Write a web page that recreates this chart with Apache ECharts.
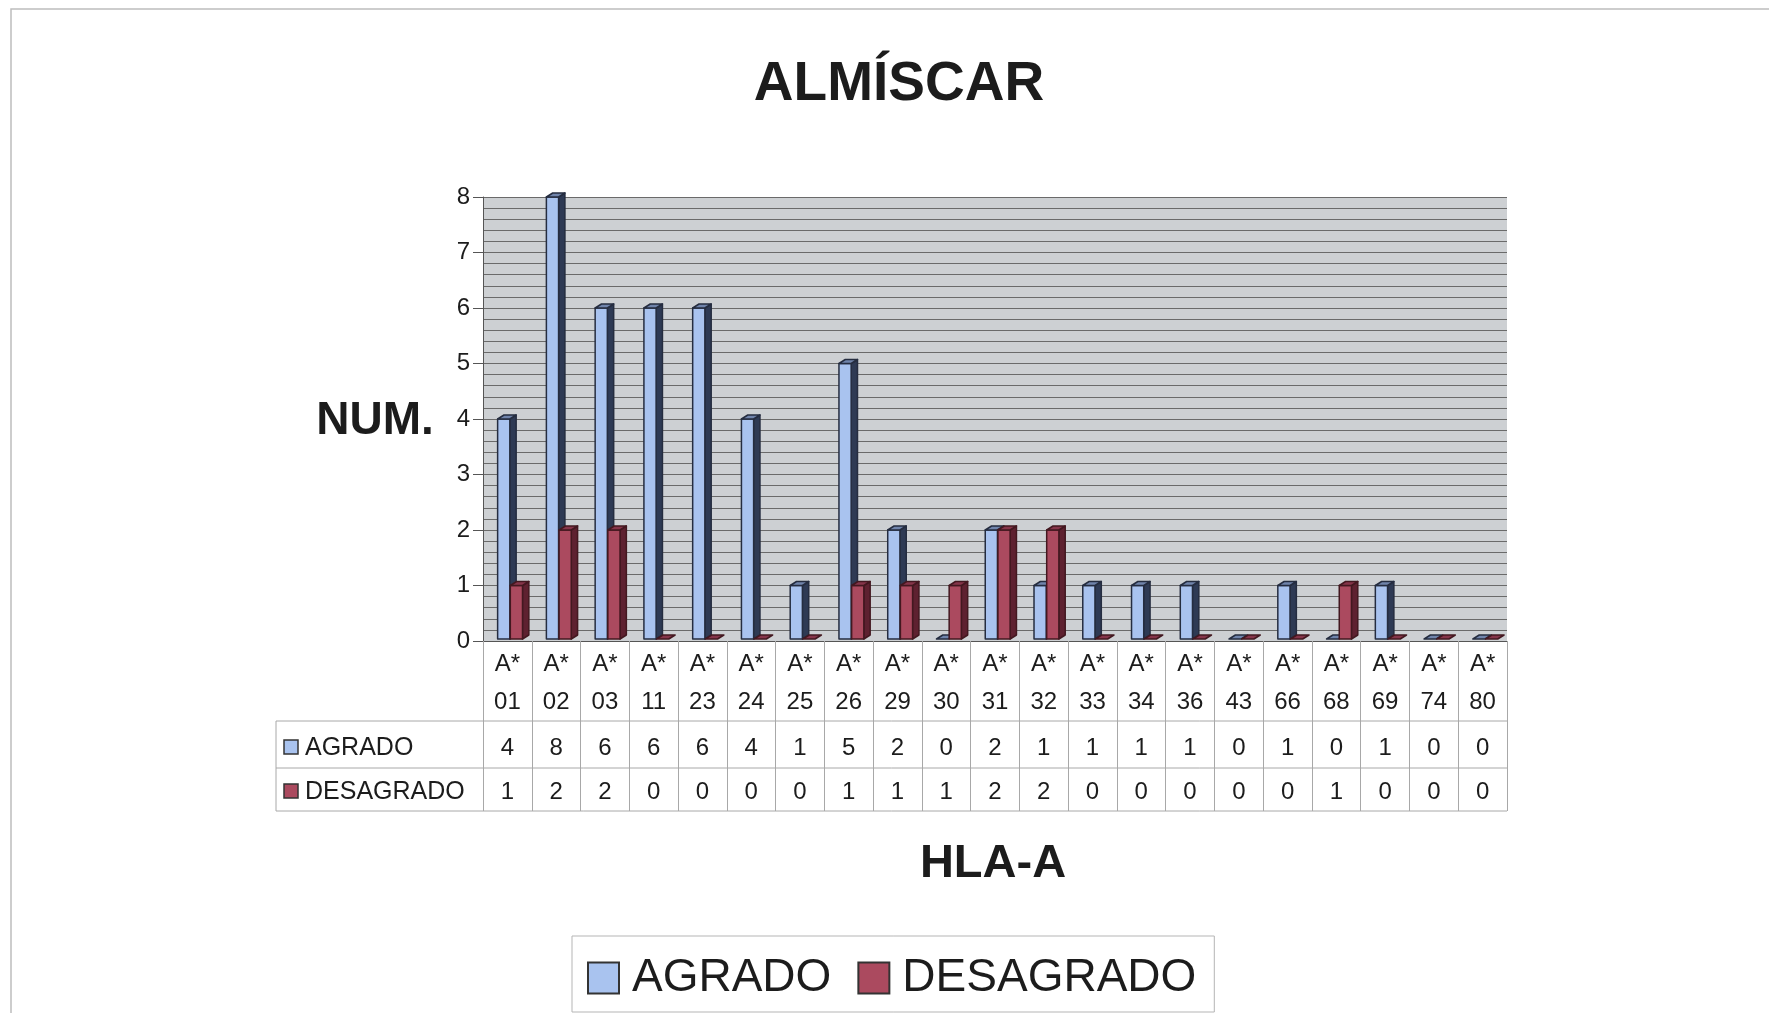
<!DOCTYPE html>
<html>
<head>
<meta charset="utf-8">
<script src="https://cdn.jsdelivr.net/npm/echarts@6/dist/echarts.min.js"></script>
<style>
  html, body { margin: 0; padding: 0; background: #ffffff; }
  #chart { width: 1769px; height: 1013px; }
</style>
</head>
<body>
<div id="chart"></div>
<script>
// HLA-A alleles and counts of people who liked / disliked the musk odour
const categories = ['A* 01', 'A* 02', 'A* 03', 'A* 11', 'A* 23', 'A* 24', 'A* 25', 'A* 26', 'A* 29', 'A* 30', 'A* 31',
                    'A* 32', 'A* 33', 'A* 34', 'A* 36', 'A* 43', 'A* 66', 'A* 68', 'A* 69', 'A* 74', 'A* 80'];
const agrado    = [4, 8, 6, 6, 6, 4, 1, 5, 2, 0, 2, 1, 1, 1, 1, 0, 1, 0, 1, 0, 0];
const desagrado = [1, 2, 2, 0, 0, 0, 0, 1, 1, 1, 2, 2, 0, 0, 0, 0, 0, 1, 0, 0, 0];
const seriesNames = ['AGRADO', 'DESAGRADO'];
const yMax = 8;

const FONT = '"Liberation Sans", Arial, Helvetica, sans-serif';
const TEXT = '#1c1c1c';

// plot rectangle and data-table geometry
const GRID = { left: 483, right: 262, top: 197, bottom: 372 };
const AXIS_Y = 1013 - GRID.bottom;          // y of the category axis
const PLOT_R = 1769 - GRID.right;
const TABLE_L = 276;
const ROW_TOP = 721, ROW_MID = 768, ROW_BOT = 811;

// pseudo-3D column: front face, right side face and top face
function bar3d(startFrac, colors) {
  return function (params, api) {
    const idx = api.value(0);
    const val = api.value(1);
    const base = api.coord([idx, 0]);
    const top = api.coord([idx, val]);
    const w = api.size([1, 0])[0];
    const x0 = base[0] - w / 2 + w * startFrac;
    const x1 = x0 + w * 0.25;
    const dx = w * 0.13, dy = 4;
    const yb = base[1] - 2;
    const yt = Math.min(top[1], yb);
    const stroke = { stroke: colors.line, lineWidth: 1.5, lineJoin: 'round' };
    const children = [];
    if (yb - yt > 0.5) {
      children.push({
        type: 'polygon',
        shape: { points: [[x1, yt], [x1 + dx, yt - dy], [x1 + dx, yb - dy], [x1, yb]] },
        style: Object.assign({ fill: colors.side }, stroke)
      });
      children.push({
        type: 'rect',
        shape: { x: x0, y: yt, width: x1 - x0, height: yb - yt },
        style: Object.assign({ fill: colors.front }, stroke)
      });
    }
    children.push({
      type: 'polygon',
      shape: { points: [[x0, yt], [x1, yt], [x1 + dx, yt - dy], [x0 + dx, yt - dy]] },
      style: Object.assign({ fill: colors.top }, stroke)
    });
    return { type: 'group', children: children };
  };
}

const blue = { front: '#a9c3ef', side: '#2e3a54', top: '#7084ab', line: '#252d40' };
const red  = { front: '#ab4a5f', side: '#5e2130', top: '#86354a', line: '#431820' };

const chart = echarts.init(document.getElementById('chart'), null, { renderer: 'canvas' });

const option = {
  backgroundColor: '#ffffff',
  animation: false,
  textStyle: { fontFamily: FONT },
  grid: Object.assign({ show: true, backgroundColor: '#cdd0d3', borderWidth: 0 }, GRID),
  legend: {
    left: 572, top: 936,
    padding: [19, 18, 11, 15],
    itemWidth: 31, itemHeight: 31, itemGap: 26,
    borderColor: '#b5b5b5', borderWidth: 1,
    icon: 'rect',
    textStyle: { fontSize: 46, color: TEXT, fontFamily: FONT, padding: [0, 0, 0, 8] },
    data: [
      { name: seriesNames[0], itemStyle: { color: blue.front, borderColor: '#333', borderWidth: 2 } },
      { name: seriesNames[1], itemStyle: { color: red.front, borderColor: '#333', borderWidth: 2 } }
    ]
  },
  xAxis: [
    {
      type: 'category', data: categories, position: 'bottom',
      axisLine: { show: true, lineStyle: { color: '#555', width: 1 } },
      axisTick: { show: true, interval: 0, length: ROW_BOT - AXIS_Y, lineStyle: { color: '#a8a8a8' } },
      axisLabel: {
        interval: 0, margin: 4, fontSize: 24, lineHeight: 38, color: TEXT, fontFamily: FONT,
        formatter: v => v.split(' ').join('\n')
      }
    },
    {
      type: 'category', data: categories, position: 'bottom', offset: 85,
      axisLine: { show: false }, axisTick: { show: false },
      axisLabel: { interval: 0, margin: 10, fontSize: 24, lineHeight: 24, color: TEXT, fontFamily: FONT,
                   formatter: (v, i) => String(agrado[i]) }
    },
    {
      type: 'category', data: categories, position: 'bottom', offset: 129,
      axisLine: { show: false }, axisTick: { show: false },
      axisLabel: { interval: 0, margin: 10, fontSize: 24, lineHeight: 24, color: TEXT, fontFamily: FONT,
                   formatter: (v, i) => String(desagrado[i]) }
    }
  ],
  yAxis: {
    type: 'value', min: 0, max: yMax, interval: 1,
    axisLine: { show: true, lineStyle: { color: '#555', width: 1 } },
    axisTick: { show: true, length: 10, lineStyle: { color: '#555' } },
    axisLabel: { margin: 13, fontSize: 24, color: TEXT, fontFamily: FONT },
    splitLine: { show: true, lineStyle: { color: '#6a6a6a', width: 1 } },
    minorTick: { show: false, splitNumber: 5 },
    minorSplitLine: { show: true, lineStyle: { color: '#6a6a6a', width: 1 } }
  },
  series: [
    {
      name: seriesNames[0], type: 'custom', xAxisIndex: 0,
      itemStyle: { color: blue.front },
      encode: { x: 0, y: 1 },
      renderItem: bar3d(0.30, blue),
      data: agrado.map((v, i) => [i, v])
    },
    {
      name: seriesNames[1], type: 'custom', xAxisIndex: 0,
      itemStyle: { color: red.front },
      encode: { x: 0, y: 1 },
      renderItem: bar3d(0.56, red),
      data: desagrado.map((v, i) => [i, v])
    }
  ],
  graphic: [
    // outer frame
    { type: 'rect', shape: { x: 11, y: 9, width: 1800, height: 1100 },
      style: { fill: 'none', stroke: '#bdbdbd', lineWidth: 1.5 }, silent: true, z: 0 },
    // titles
    { type: 'text', x: 899, y: 85,
      style: { text: 'ALMÍSCAR', font: 'bold 55px ' + FONT, fill: TEXT, align: 'center', verticalAlign: 'middle' } },
    { type: 'text', x: 375, y: 421,
      style: { text: 'NUM.', font: 'bold 46px ' + FONT, fill: TEXT, align: 'center', verticalAlign: 'middle' } },
    { type: 'text', x: 993, y: 864,
      style: { text: 'HLA-A', font: 'bold 47px ' + FONT, fill: TEXT, align: 'center', verticalAlign: 'middle' } },
    // data table rules
    { type: 'line', shape: { x1: TABLE_L, y1: ROW_TOP, x2: PLOT_R, y2: ROW_TOP }, style: { stroke: '#a8a8a8', lineWidth: 1 } },
    { type: 'line', shape: { x1: TABLE_L, y1: ROW_MID, x2: PLOT_R, y2: ROW_MID }, style: { stroke: '#a8a8a8', lineWidth: 1 } },
    { type: 'line', shape: { x1: TABLE_L, y1: ROW_BOT, x2: PLOT_R, y2: ROW_BOT }, style: { stroke: '#a8a8a8', lineWidth: 1 } },
    { type: 'line', shape: { x1: TABLE_L, y1: ROW_TOP, x2: TABLE_L, y2: ROW_BOT }, style: { stroke: '#a8a8a8', lineWidth: 1 } },
    // row headers
    { type: 'rect', shape: { x: 284, y: 740, width: 14, height: 14 },
      style: { fill: blue.front, stroke: '#333', lineWidth: 1.5 } },
    { type: 'text', x: 305, y: 748,
      style: { text: seriesNames[0], font: '25px ' + FONT, fill: TEXT, align: 'left', verticalAlign: 'middle' } },
    { type: 'rect', shape: { x: 284, y: 784, width: 14, height: 14 },
      style: { fill: red.front, stroke: '#333', lineWidth: 1.5 } },
    { type: 'text', x: 305, y: 792,
      style: { text: seriesNames[1], font: '25px ' + FONT, fill: TEXT, align: 'left', verticalAlign: 'middle' } }
  ]
};

chart.setOption(option);
</script>
</body>
</html>
